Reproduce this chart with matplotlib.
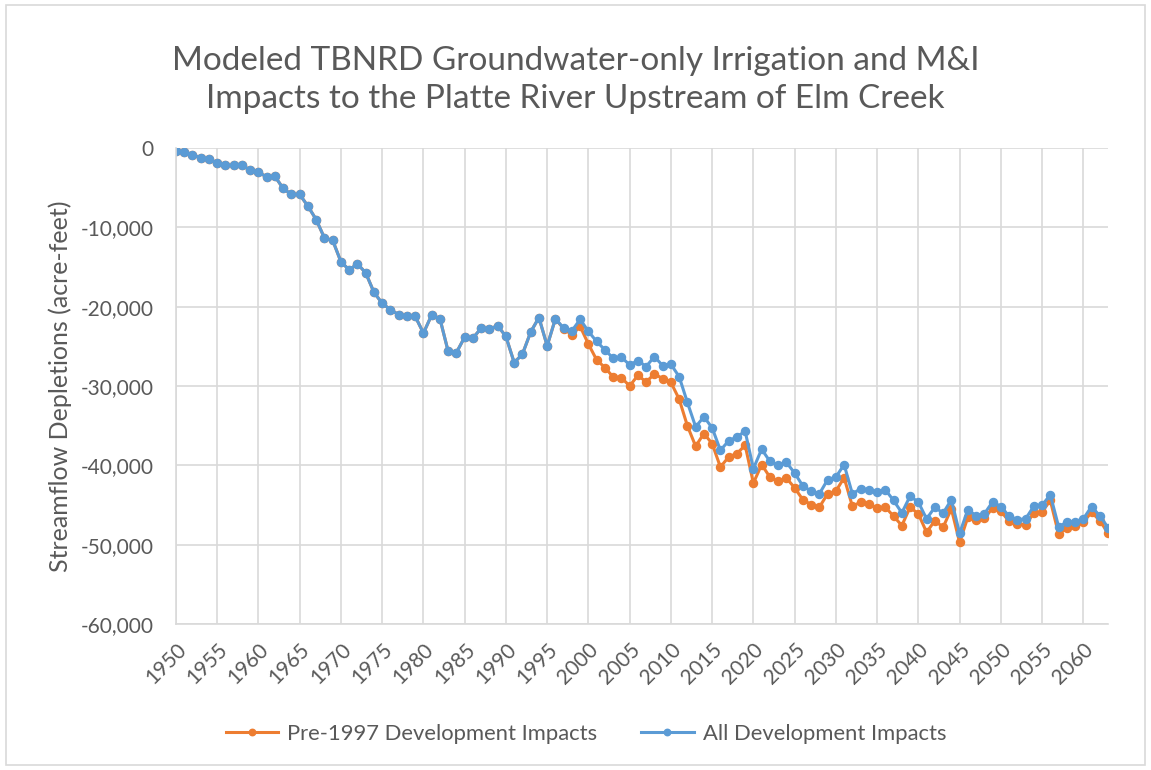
import matplotlib
matplotlib.use("Agg")
import matplotlib.pyplot as plt
from matplotlib.patches import Rectangle
from matplotlib.ticker import FuncFormatter

plt.rcParams['font.family'] = ['Lato', 'DejaVu Sans']

TEXT = '#595959'
GRID = '#D9D9D9'
ORANGE = '#ED7D31'
BLUE = '#5B9BD5'

years = list(range(1950, 2064))

# streamflow depletions, acre-feet
pre1997 = [
    -340, -470, -850, -1230, -1430, -1860, -2190, -2190, -2190, -2780,
    -3080, -3630, -3590, -5100, -5860, -5860, -7340, -9030, -11350, -11650,
    -14350, -15360, -14600, -15740, -18190, -19580, -20380, -21010, -21220, -21220,
    -23330, -21050, -21520, -25650, -25780, -23840, -23970, -22700, -22830, -22400,
    -23760, -27050, -25990, -23200, -21370, -24940, -21520, -22800, -23540, -22490,
    -24720, -26710, -27680, -28860, -28950, -30000, -28650, -29490, -28480, -29070,
    -29540, -31650, -35020, -37590, -35990, -37260, -40210, -38950, -38520, -37470,
    -42240, -39910, -41480, -42030, -41600, -42830, -44340, -44940, -45270, -43590,
    -43250, -41560, -45150, -44640, -44850, -45400, -45270, -46410, -47590, -45270,
    -46120, -48440, -46960, -47810, -45480, -49710, -46540, -46880, -46670, -45400,
    -45780, -47050, -47380, -47470, -46030, -45860, -44430, -48650, -47890, -47640,
    -47170, -45910, -46960, -48570,
]
all_dev = [
    -340, -470, -850, -1230, -1430, -1860, -2190, -2190, -2190, -2780,
    -3080, -3630, -3590, -5100, -5860, -5860, -7340, -9030, -11350, -11650,
    -14350, -15360, -14600, -15740, -18190, -19580, -20380, -21010, -21220, -21220,
    -23330, -21050, -21520, -25650, -25780, -23840, -23970, -22700, -22830, -22400,
    -23760, -27050, -25990, -23200, -21370, -24940, -21520, -22700, -23040, -21600,
    -23120, -24390, -25440, -26500, -26370, -27340, -26790, -27550, -26290, -27430,
    -27260, -28820, -32070, -35150, -33880, -35270, -38100, -36920, -36410, -35700,
    -40420, -37970, -39490, -40000, -39620, -40970, -42600, -43250, -43590, -41810,
    -41480, -39910, -43590, -42950, -43080, -43380, -43080, -44430, -45990, -43880,
    -44640, -46750, -45270, -46030, -44340, -48570, -45610, -46330, -46120, -44600,
    -45190, -46410, -46840, -46750, -45150, -45020, -43710, -47720, -47170, -47090,
    -46750, -45190, -46370, -47850,
]
xticks = list(range(1950, 2061, 5))

fig = plt.figure(figsize=(11.51, 7.70), dpi=100)
ax = fig.add_axes([0.1529, 0.1896, 0.8098, 0.6182])

ax.plot(years, pre1997, color=ORANGE, lw=2.2, marker='o', ms=5.8,
        label='Pre-1997 Development Impacts')
ax.plot(years, all_dev, color=BLUE, lw=2.2, marker='o', ms=5.8,
        label='All Development Impacts')

ax.set_xlim(1950, 2063)
ax.set_ylim(-60000, 0)
ax.set_xticks(xticks)
ax.set_xticklabels([str(y) for y in xticks], rotation=45, ha='right',
                   rotation_mode='anchor')
ax.set_yticks(range(-60000, 1, 10000))
ax.yaxis.set_major_formatter(FuncFormatter(lambda v, p: '{:,.0f}'.format(v)))
ax.tick_params(length=0, labelsize=15, labelcolor=TEXT)
ax.tick_params(axis='y', pad=16)
ax.tick_params(axis='x', pad=11)
ax.grid(True, color=GRID, lw=1.2)
ax.set_axisbelow(True)
for s in ['top', 'right']:
    ax.spines[s].set_visible(False)
for s in ['left', 'bottom']:
    ax.spines[s].set_color(GRID)
    ax.spines[s].set_linewidth(1.2)

ax.set_ylabel('Streamflow Depletions (acre-feet)', fontsize=18, color=TEXT,
              labelpad=6)
fig.text(0.5, 0.896,
         'Modeled TBNRD Groundwater-only Irrigation and M&I\n'
         'Impacts to the Platte River Upstream of Elm Creek',
         ha='center', va='center', fontsize=24, color=TEXT, linespacing=1.3)

fig.legend(loc='center', bbox_to_anchor=(0.509, 0.047), ncol=2, frameon=False,
           fontsize=15.8, labelcolor=TEXT, handlelength=2.4, handletextpad=0.4,
           columnspacing=2.0, markerscale=0.8)

fig.patches.append(Rectangle((0.005, 0.007), 0.99, 0.986, transform=fig.transFigure,
                             fill=False, edgecolor=GRID, lw=1.2))

fig.savefig('out.png', dpi=100)
